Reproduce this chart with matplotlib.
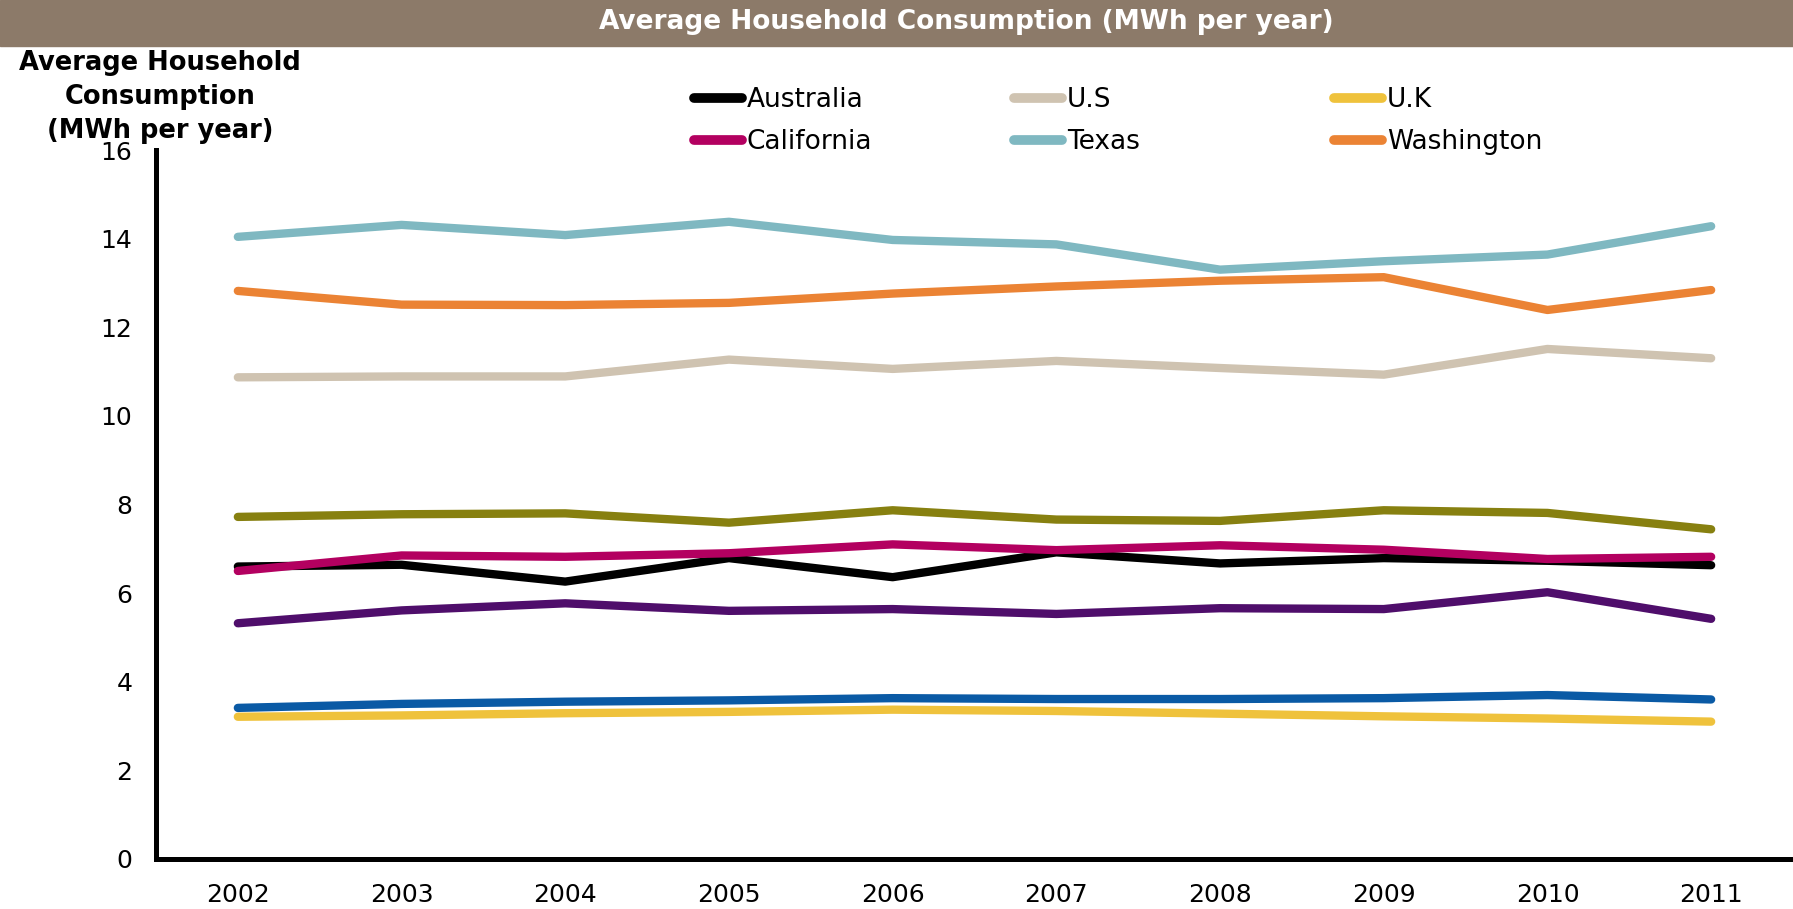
import matplotlib
matplotlib.use("Agg")
import matplotlib.pyplot as plt
from matplotlib.patches import Rectangle
import numpy as np

years = ["2002", "2003", "2004", "2005", "2006", "2007", "2008", "2009", "2010", "2011"]

australia = [6.60, 6.64, 6.26, 6.79, 6.36, 6.92, 6.67, 6.79, 6.73, 6.63]
us = [10.87, 10.89, 10.89, 11.27, 11.06, 11.24, 11.08, 10.93, 11.51, 11.30]
uk = [3.21, 3.24, 3.29, 3.32, 3.37, 3.34, 3.28, 3.22, 3.17, 3.10]
california = [6.50, 6.85, 6.82, 6.90, 7.10, 6.97, 7.08, 6.98, 6.77, 6.82]
texas = [14.04, 14.31, 14.08, 14.38, 13.97, 13.87, 13.30, 13.49, 13.64, 14.28]
washington = [12.82, 12.51, 12.50, 12.55, 12.76, 12.92, 13.05, 13.13, 12.39, 12.84]
# three more series are drawn but not named in the legend
unnamed_olive = [7.72, 7.78, 7.80, 7.59, 7.87, 7.66, 7.63, 7.87, 7.81, 7.44]
unnamed_purple = [5.32, 5.61, 5.77, 5.60, 5.64, 5.53, 5.66, 5.64, 6.02, 5.42]
unnamed_blue = [3.41, 3.50, 3.55, 3.58, 3.63, 3.61, 3.61, 3.63, 3.70, 3.60]

W, H = 1793, 909
fig = plt.figure(figsize=(W / 100, H / 100), dpi=100)
fig.patch.set_facecolor("white")

ax = fig.add_axes([156 / W, 1 - 859 / H, 1 - 156 / W, (859 - 150) / H])
x = np.arange(len(years))

line_kw = dict(lw=6, solid_capstyle="round", solid_joinstyle="round")
h_aus, = ax.plot(x, australia, color="#000000", label="Australia", **line_kw)
h_us, = ax.plot(x, us, color="#CFC3B1", label="U.S", **line_kw)
h_uk, = ax.plot(x, uk, color="#EFC23C", label="U.K", **line_kw)
ax.plot(x, unnamed_blue, color="#0A5AA5", **line_kw)
h_cal, = ax.plot(x, california, color="#B30060", label="California", **line_kw)
h_tex, = ax.plot(x, texas, color="#7FB8C1", label="Texas", **line_kw)
h_was, = ax.plot(x, washington, color="#EB8334", label="Washington", **line_kw)
ax.plot(x, unnamed_olive, color="#878010", **line_kw)
ax.plot(x, unnamed_purple, color="#4F0E6B", **line_kw)

ax.set_xlim(-0.5, len(years) - 0.5)
ax.set_ylim(0, 16)
ax.set_xticks(x)
ax.set_xticklabels(years)
ax.set_yticks(np.arange(0, 17, 2))
ax.tick_params(axis="both", length=0, labelsize=18)
ax.tick_params(axis="x", pad=17)
ax.tick_params(axis="y", pad=17)
for s in ["top", "right"]:
    ax.spines[s].set_visible(False)
for s in ["left", "bottom"]:
    ax.spines[s].set_linewidth(3.6)
    ax.spines[s].set_color("black")

# legend: three columns at fixed spacing
cols = [([h_aus, h_cal], 694), ([h_us, h_tex], 1014), ([h_uk, h_was], 1334)]
for handles, xpos in cols:
    leg = fig.legend(handles=handles, loc="center left",
                     bbox_to_anchor=(xpos / W, 1 - 121 / H),
                     frameon=False, fontsize=19, handlelength=1.8,
                     handletextpad=0.2, labelspacing=0.62,
                     borderpad=0, borderaxespad=0)
    for h in leg.legend_handles:
        h.set_linewidth(7)

# title band
fig.patches.append(Rectangle((0, 1 - 46 / H), 1, 46 / H, transform=fig.transFigure,
                             color="#8C7A69", zorder=0))
fig.text(966 / W, 1 - 22 / H, "Average Household Consumption (MWh per year)",
         ha="center", va="center", color="white", fontsize=19, fontweight="bold")

fig.text(160 / W, 1 - 97 / H, "Average Household\nConsumption\n(MWh per year)",
         ha="center", va="center", fontsize=18.5, fontweight="bold", linespacing=1.4)

fig.savefig("out.png", dpi=100)
